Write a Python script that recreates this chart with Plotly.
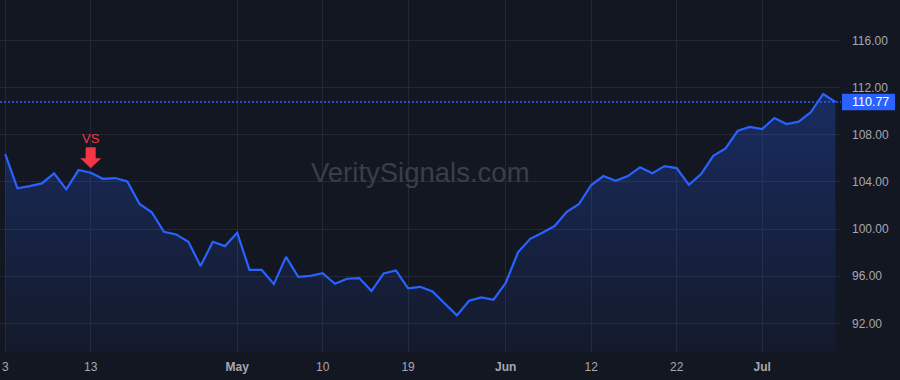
import plotly.graph_objects as go

# ---- data ----
dates = [
    "2023-04-03", "2023-04-04", "2023-04-05", "2023-04-06", "2023-04-10", "2023-04-11",
    "2023-04-12", "2023-04-13", "2023-04-14", "2023-04-17", "2023-04-18", "2023-04-19",
    "2023-04-20", "2023-04-21", "2023-04-24", "2023-04-25", "2023-04-26", "2023-04-27",
    "2023-04-28", "2023-05-01", "2023-05-02", "2023-05-03", "2023-05-04", "2023-05-05",
    "2023-05-08", "2023-05-09", "2023-05-10", "2023-05-11", "2023-05-12", "2023-05-15",
    "2023-05-16", "2023-05-17", "2023-05-18", "2023-05-19", "2023-05-22", "2023-05-23",
    "2023-05-24", "2023-05-25", "2023-05-26", "2023-05-30", "2023-05-31", "2023-06-01",
    "2023-06-02", "2023-06-05", "2023-06-06", "2023-06-07", "2023-06-08", "2023-06-09",
    "2023-06-12", "2023-06-13", "2023-06-14", "2023-06-15", "2023-06-16", "2023-06-20",
    "2023-06-21", "2023-06-22", "2023-06-23", "2023-06-26", "2023-06-27", "2023-06-28",
    "2023-06-29", "2023-06-30", "2023-07-03", "2023-07-05", "2023-07-06", "2023-07-07",
    "2023-07-10", "2023-07-11", "2023-07-12",
]
prices = [
    106.36, 103.45, 103.64, 103.87, 104.72, 103.36, 105.00, 104.77, 104.26, 104.32,
    104.04, 102.12, 101.42, 99.77, 99.54, 98.92, 96.86, 98.92, 98.55, 99.68,
    96.54, 96.54, 95.33, 97.64, 95.95, 96.03, 96.26, 95.36, 95.78, 95.84,
    94.74, 96.24, 96.49, 94.96, 95.10, 94.70, 93.69, 92.68, 93.92, 94.20,
    94.00, 95.44, 98.02, 99.17, 99.68, 100.25, 101.46, 102.12, 103.73, 104.49,
    104.09, 104.49, 105.23, 104.72, 105.34, 105.17, 103.75, 104.66, 106.20, 106.84,
    108.33, 108.65, 108.48, 109.41, 108.90, 109.10, 109.92, 111.45, 110.77,
]
x_tick_dates = ["2023-04-03", "2023-04-13", "2023-05-01", "2023-05-10", "2023-05-19",
                "2023-06-01", "2023-06-12", "2023-06-22", "2023-07-03"]
x_tick_text = ["3", "13", "<b>May</b>", "10", "19", "<b>Jun</b>", "12", "22", "<b>Jul</b>"]
y_tick_vals = [92, 96, 100, 104, 108, 112, 116]
signal_date = "2023-04-13"
signal_label = "VS"
last_price = prices[-1]
watermark = "VeritySignals.com"

BG = "#131722"
LINE = "#2962FF"
GRID = "#242833"
TXT = "#a5a8b1"
RED = "#f23645"

y_lo, y_hi = 89.57, 119.42

fig = go.Figure()
fig.add_trace(go.Scatter(
    x=dates, y=prices, mode="lines",
    line=dict(color=LINE, width=2.2),
    fill="tozeroy",
    fillgradient=dict(type="vertical", start=y_lo, stop=max(prices),
                      colorscale=[[0, "rgba(41,98,255,0.04)"], [1, "rgba(41,98,255,0.28)"]]),
    hoverinfo="skip", showlegend=False,
))

sig_idx = dates.index(signal_date)
sig_val = prices[sig_idx]

# signal arrow (pixel-sized shape anchored at the signal point)
fig.add_shape(
    type="path", xref="x", yref="y",
    xsizemode="pixel", ysizemode="pixel",
    xanchor=sig_idx, yanchor=sig_val,
    path="M 0 4.5 L -10.5 14.5 L -5 14.5 L -5 25.5 L 5 25.5 L 5 14.5 L 10.5 14.5 Z",
    fillcolor=RED, line=dict(width=0), layer="above",
)
fig.add_annotation(
    x=sig_idx, y=sig_val, xref="x", yref="y", text=signal_label,
    showarrow=False, yshift=34, font=dict(color=RED, size=13, family="Liberation Sans, Arial"),
)

# last price dotted line + label box
fig.add_shape(type="line", xref="paper", yref="y", x0=0, x1=1, y0=last_price, y1=last_price,
              line=dict(color=LINE, width=1.3, dash="2px,2px"))
fig.add_shape(
    type="rect", xref="paper", yref="y",
    xsizemode="pixel", ysizemode="pixel", xanchor=1, yanchor=last_price,
    x0=1, x1=54, y0=-8.3, y1=8.3,
    fillcolor=LINE, line=dict(width=0), layer="above",
)
fig.add_annotation(
    xref="paper", yref="y", x=1, y=last_price, xanchor="left", yanchor="middle",
    text=f"{last_price:.2f}", showarrow=False, xshift=9,
    font=dict(color="white", size=12.5, family="Liberation Sans, Arial"),
)

# watermark
fig.add_annotation(
    xref="paper", yref="paper", x=0.5, y=0.51, text=watermark, showarrow=False,
    font=dict(color="#3a3e49", size=27.5, family="Liberation Sans, Arial"),
)

fig.update_layout(
    width=900, height=380,
    margin=dict(l=0, r=59, t=0, b=28),
    paper_bgcolor=BG, plot_bgcolor=BG,
    font=dict(family="Liberation Sans, Arial", size=12, color=TXT),
    xaxis=dict(
        type="category", range=[-0.43, 68.46],
        tickmode="array", tickvals=x_tick_dates, ticktext=x_tick_text,
        showgrid=True, gridcolor=GRID, gridwidth=1,
        zeroline=False, showline=False, ticks="",
        tickfont=dict(size=12, color=TXT),
        ticklabelstandoff=6,
    ),
    yaxis=dict(
        side="right", range=[y_lo, y_hi],
        tickmode="array", tickvals=y_tick_vals,
        ticktext=[f"{v:.2f}" for v in y_tick_vals],
        showgrid=True, gridcolor=GRID, gridwidth=1,
        zeroline=False, showline=False, ticks="",
        tickfont=dict(size=12, color=TXT),
        ticklabelstandoff=10,
    ),
    hovermode=False,
)

fig.write_html("out.html")
